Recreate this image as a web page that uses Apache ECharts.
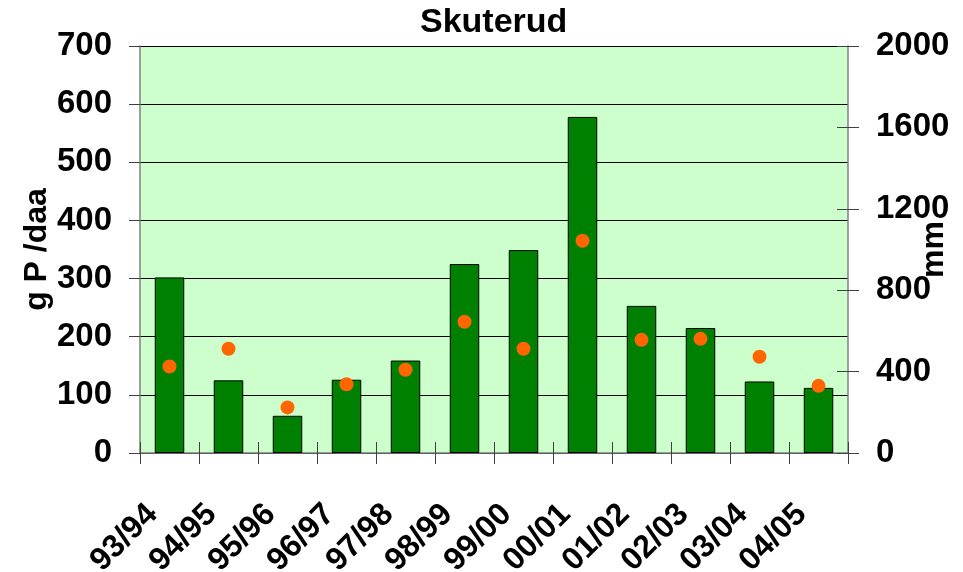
<!DOCTYPE html>
<html>
<head>
<meta charset="utf-8">
<script src="https://cdn.jsdelivr.net/npm/echarts@6/dist/echarts.min.js"></script>
<style>
html, body { margin: 0; padding: 0; background: #fff; }
#main { width: 963px; height: 572px; }
</style>
</head>
<body>
<div id="main"></div>
<script>
var myChart = echarts.init(document.getElementById('main'));

var seasons = ['93/94', '94/95', '95/96', '96/97', '97/98', '98/99', '99/00', '00/01', '01/02', '02/03', '03/04', '04/05'];
var phosphorus = [302, 125, 64, 126, 159, 325, 349, 578, 253, 215, 123, 112];   // g P /daa, bars
var runoff = [425, 512, 224, 338, 409, 645, 512, 1043, 556, 561, 473, 330];       // mm, dots
var leftTicks = { min: 0, max: 700, interval: 100 };
var rightTicks = { min: 0, max: 2000, interval: 400 };

var font = "'Liberation Sans', Arial, sans-serif";
var gray = '#808080';

myChart.setOption({
    backgroundColor: '#ffffff',
    animation: false,
    title: {
        text: 'Skuterud',
        left: 415,
        top: 1,
        textStyle: { fontFamily: font, fontWeight: 'bold', fontSize: 34, color: '#000' }
    },
    grid: {
        left: 140, right: 115, top: 46, bottom: 119,
        outerBoundsMode: 'none',
        containLabel: false,
        show: true,
        backgroundColor: '#ccffcc',
        borderWidth: 0
    },
    xAxis: [{
        type: 'category',
        data: seasons,
        position: 'bottom',
        axisLine: { lineStyle: { color: gray, width: 1.5 } },
        axisTick: { show: true, length: 11, lineStyle: { color: '#404040' } },
        axisLabel: {
            rotate: 45,
            interval: 0,
            margin: 62,
            padding: [0, 8, 0, 0],
            verticalAlign: 'bottom',
            fontFamily: font, fontWeight: 'bold', fontSize: 32, color: '#000'
        }
    }, {
        type: 'category',
        data: seasons,
        position: 'bottom',
        axisLine: { show: false },
        axisTick: { show: true, inside: true, length: 11, lineStyle: { color: '#404040' } },
        axisLabel: { show: false }
    }],
    yAxis: [{
        type: 'value',
        position: 'left',
        min: leftTicks.min, max: leftTicks.max, interval: leftTicks.interval,
        name: 'g P /daa',
        nameLocation: 'middle',
        nameRotate: 90,
        nameGap: 87,
        nameMoveOverlap: false,
        nameTextStyle: { fontFamily: font, fontWeight: 'bold', fontSize: 32, color: '#000' },
        axisLine: { show: true, lineStyle: { color: gray, width: 1.5 } },
        axisTick: { show: true, length: 11, lineStyle: { color: '#404040' } },
        splitLine: { show: true, lineStyle: { color: '#000', width: 1 } },
        axisLabel: { margin: 28, fontFamily: font, fontWeight: 'bold', fontSize: 33, color: '#000' }
    }, {
        type: 'value',
        position: 'right',
        min: rightTicks.min, max: rightTicks.max, interval: rightTicks.interval,
        name: 'mm',
        nameLocation: 'middle',
        nameRotate: 90,
        nameGap: 70,
        nameMoveOverlap: false,
        nameTextStyle: { fontFamily: font, fontWeight: 'bold', fontSize: 32, color: '#000' },
        axisLine: { show: true, lineStyle: { color: gray, width: 1.5 } },
        axisTick: { show: true, length: 11, lineStyle: { color: '#404040' } },
        splitLine: { show: false },
        axisLabel: {
            margin: 28, fontFamily: font, fontWeight: 'bold', fontSize: 33, color: '#000',
            formatter: function (v) { return String(v); }
        }
    }, {
        type: 'value',
        position: 'right',
        min: rightTicks.min, max: rightTicks.max, interval: rightTicks.interval,
        axisLine: { show: false },
        axisTick: { show: true, inside: true, length: 11, lineStyle: { color: '#404040' } },
        splitLine: { show: false },
        axisLabel: { show: false }
    }],
    series: [{
        name: 'g P /daa',
        type: 'bar',
        xAxisIndex: 0,
        yAxisIndex: 0,
        data: phosphorus,
        barWidth: '50%',
        itemStyle: { color: '#008000', borderColor: '#000', borderWidth: 1 },
        z: 2
    }, {
        name: 'mm',
        type: 'scatter',
        xAxisIndex: 0,
        yAxisIndex: 1,
        data: runoff,
        symbol: 'circle',
        symbolSize: 14,
        itemStyle: { color: '#ff6600', opacity: 1 },
        z: 3
    }]
});
</script>
</body>
</html>
